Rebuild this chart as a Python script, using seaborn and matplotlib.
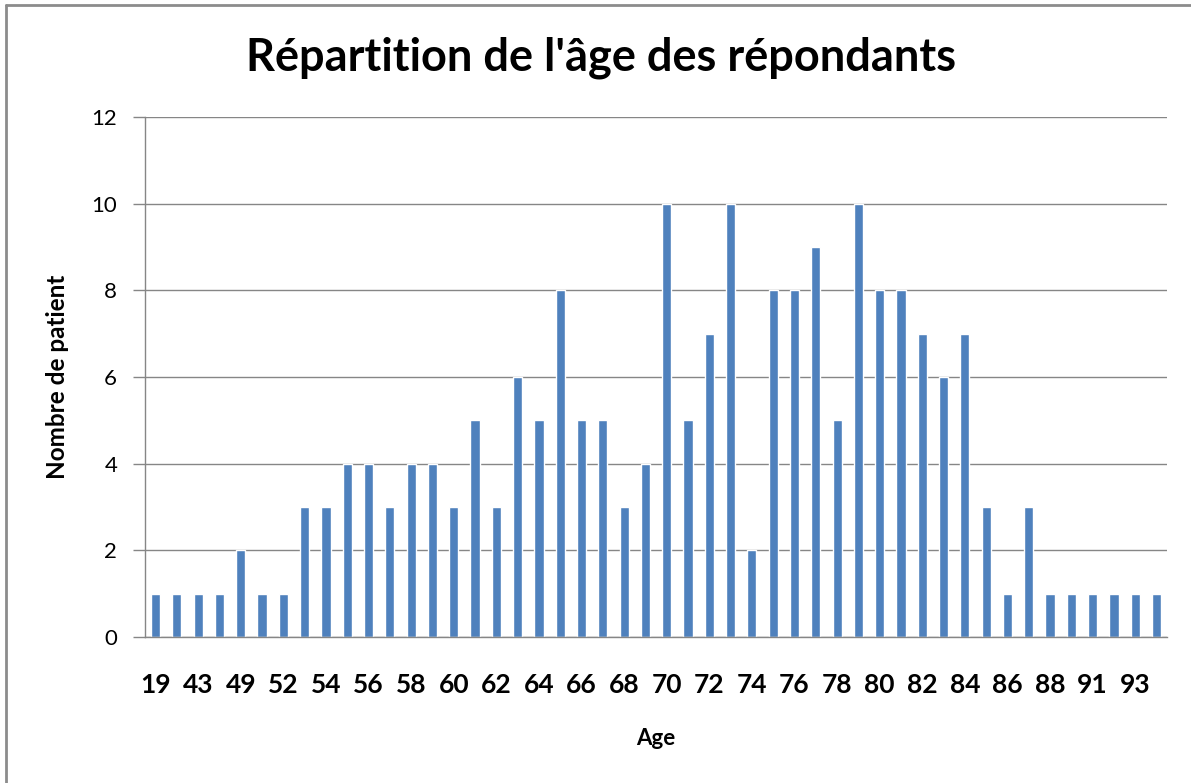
import pandas as pd
import matplotlib.pyplot as plt
import seaborn as sns
from matplotlib.lines import Line2D

# ages (categories) and number of patients per age
ages = [19, 38, 43, 46, 49, 50, 52, 53, 54, 55, 56, 57, 58, 59, 60, 61,
        62, 63, 64, 65, 66, 67, 68, 69, 70, 71, 72, 73, 74, 75, 76, 77,
        78, 79, 80, 81, 82, 83, 84, 85, 86, 87, 88, 89, 91, 92, 93, 95]
counts = [1, 1, 1, 1, 2, 1, 1, 3, 3, 4, 4, 3, 4, 4, 3, 5,
          3, 6, 5, 8, 5, 5, 3, 4, 10, 5, 7, 10, 2, 8, 8, 9,
          5, 10, 8, 8, 7, 6, 7, 3, 1, 3, 1, 1, 1, 1, 1, 1]
y_ticks = [0, 2, 4, 6, 8, 10, 12]

df = pd.DataFrame({'age': [str(a) for a in ages], 'count': counts})

sns.set_style("white")
plt.rcParams['font.family'] = ['Lato', 'DejaVu Sans']
plt.rcParams['text.color'] = 'black'
plt.rcParams['xtick.color'] = 'black'
plt.rcParams['ytick.color'] = 'black'
plt.rcParams['axes.labelcolor'] = 'black'

fig = plt.figure(figsize=(11.91, 7.83), dpi=100)
ax = fig.add_axes([0.1217, 0.1865, 0.8583, 0.6641])

sns.barplot(data=df, x='age', y='count', order=df['age'], color='#4F81BD',
            saturation=1, width=0.43, ax=ax)

ax.set_ylim(0, 12)
ax.set_yticks(y_ticks)
ax.set_xlim(-0.5, len(ages) - 0.5)
ax.set_xticks(range(0, len(ages), 2))
ax.set_xticklabels(df['age'][::2], fontsize=19, fontweight='bold')
ax.tick_params(axis='x', length=0, pad=26)
ax.tick_params(axis='y', length=9, width=1, color='#868686', direction='out',
               labelsize=16, labelcolor='black', pad=11, left=True)
ax.yaxis.grid(True, color='#868686', linewidth=1)
ax.set_axisbelow(True)

for s in ['top', 'right']:
    ax.spines[s].set_visible(False)
for s in ['left', 'bottom']:
    ax.spines[s].set_color('#868686')
    ax.spines[s].set_linewidth(1)

ax.set_xlabel('Age', fontsize=16, fontweight='bold', labelpad=22)
ax.set_ylabel('Nombre de patient', fontsize=17.5, fontweight='bold', labelpad=16)

fig.text(0.505, 0.926, "Répartition de l'âge des répondants",
         ha='center', va='center', fontsize=32.5, fontweight='bold')

# outer chart border (left and top edges visible)
fig.add_artist(Line2D([0.005, 0.005], [0, 0.994], transform=fig.transFigure,
                      color='#8c8c8c', linewidth=2))
fig.add_artist(Line2D([0.005, 1], [0.994, 0.994], transform=fig.transFigure,
                      color='#8c8c8c', linewidth=2))

plt.savefig('out.png', dpi=100)
